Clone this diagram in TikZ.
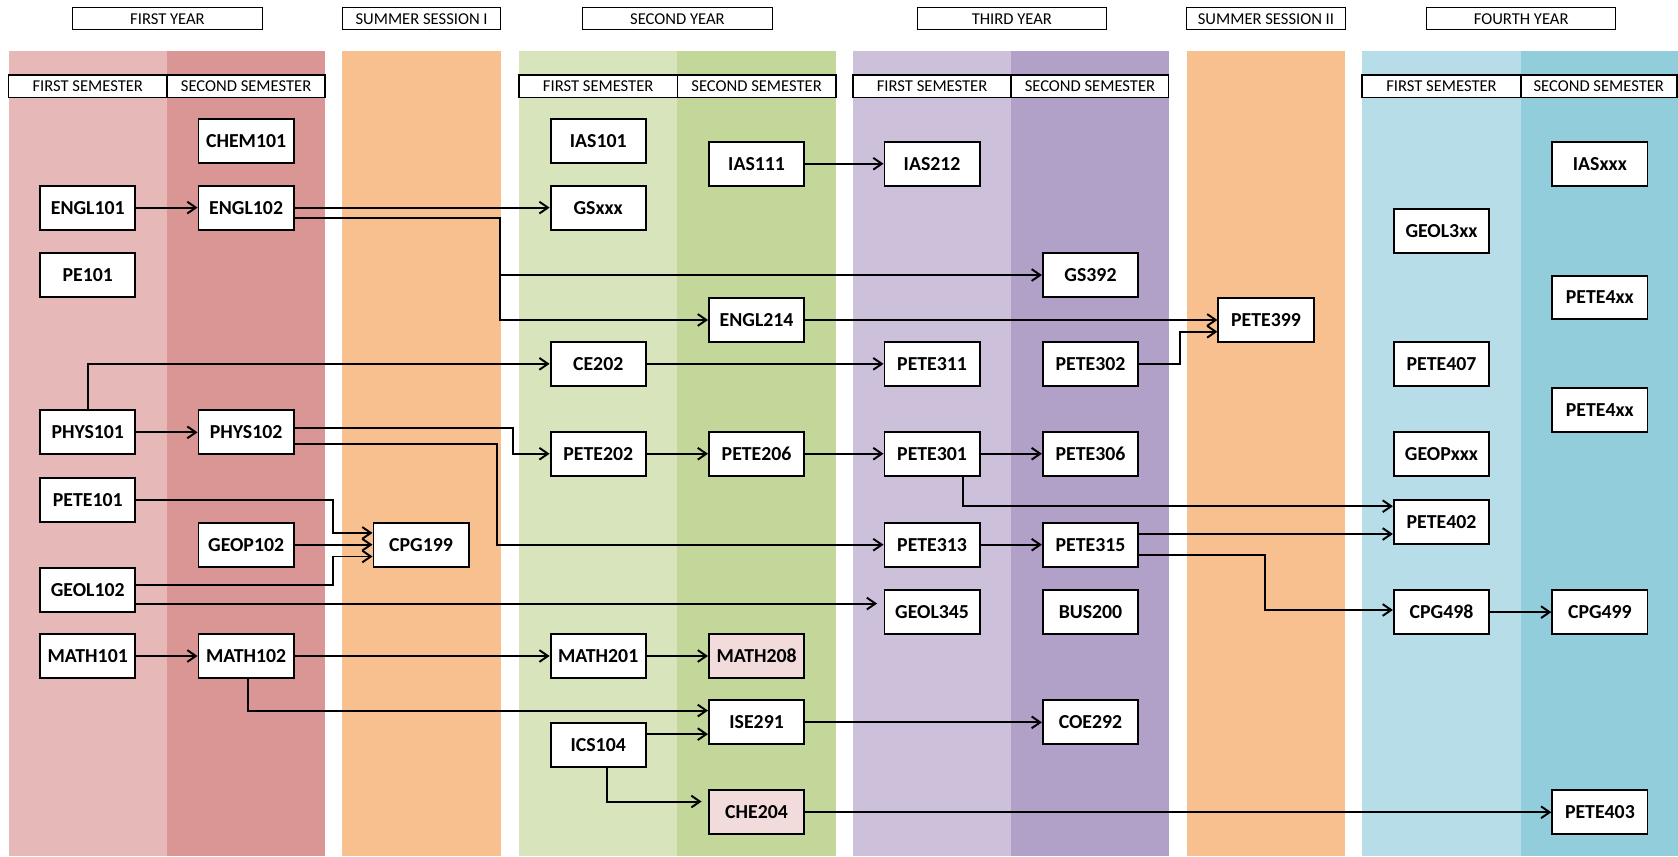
\documentclass[tikz,border=0pt]{standalone}
\usepackage{fontspec}
\setmainfont{Carlito}
\usetikzlibrary{arrows.meta,calc}
\definecolor{yAa}{HTML}{E6B9B8}
\definecolor{yAb}{HTML}{D99694}
\definecolor{sum}{HTML}{F8BF8F}
\definecolor{yBa}{HTML}{D8E4BC}
\definecolor{yBb}{HTML}{C4D79B}
\definecolor{yCa}{HTML}{CCC0DA}
\definecolor{yCb}{HTML}{B1A0C7}
\definecolor{yDa}{HTML}{B7DEE8}
\definecolor{yDb}{HTML}{92CDDC}
\definecolor{pinkfill}{HTML}{F2DCDB}
\begin{document}
\begin{tikzpicture}[x=1pt,y=-1pt,
 course/.style={draw=black,line width=1.8pt,fill=white,minimum width=89pt,minimum height=41pt,inner sep=0pt,font=\fontsize{18.5}{20}\selectfont\bfseries},
 hot/.style={course,fill=pinkfill},
 yearhdr/.style={draw=black,line width=0.9pt,fill=white,minimum height=21pt,inner sep=0pt,font=\fontsize{15.5}{17}\selectfont},
 semhdr/.style={draw=black,line width=1.6pt,fill=white,minimum height=21pt,minimum width=148pt,inner sep=0pt,font=\fontsize{15.5}{17}\selectfont},
 arr/.style={line width=1.8pt,-{Straight Barb[length=8pt,width=11pt]}}]
\useasboundingbox (0,0) rectangle (1568,800);
\fill[white] (0,0) rectangle (1568,800);
% lanes
\fill[yAa] (8,48) rectangle (156,800);
\fill[yAb] (156,48) rectangle (304,800);
\fill[sum] (320,48) rectangle (468,800);
\fill[yBa] (485,48) rectangle (633,800);
\fill[yBb] (633,48) rectangle (781,800);
\fill[yCa] (797,48) rectangle (945,800);
\fill[yCb] (945,48) rectangle (1092,800);
\fill[sum] (1109,48) rectangle (1257,800);
\fill[yDa] (1273,48) rectangle (1421,800);
\fill[yDb] (1421,48) rectangle (1568,800);
% year headers
\node[yearhdr,minimum width=177pt] (hA) at (156.5,17.5) {FIRST YEAR};
\node[yearhdr,minimum width=148pt] (hS1) at (394,17.5) {SUMMER SESSION I};
\node[yearhdr,minimum width=178pt] (hB) at (633,17.5) {SECOND YEAR};
\node[yearhdr,minimum width=177pt] (hC) at (945.5,17.5) {THIRD YEAR};
\node[yearhdr,minimum width=148pt] (hS2) at (1183,17.5) {SUMMER SESSION II};
\node[yearhdr,minimum width=177pt] (hD) at (1421.5,17.5) {FOURTH YEAR};
% semester headers
\node[semhdr] (sA1) at (82,80.5) {FIRST SEMESTER};
\node[semhdr] (sA2) at (230,80.5) {SECOND SEMESTER};
\node[semhdr] (sB1) at (559,80.5) {FIRST SEMESTER};
\node[semhdr] (sB2) at (707,80.5) {SECOND SEMESTER};
\node[semhdr] (sC1) at (871,80.5) {FIRST SEMESTER};
\node[semhdr,minimum width=147pt] (sC2) at (1018.5,80.5) {SECOND SEMESTER};
\node[semhdr] (sD1) at (1347,80.5) {FIRST SEMESTER};
\node[semhdr,minimum width=146pt] (sD2) at (1494,80.5) {SECOND SEMESTER};
% first year
\node[course] (CHEM101) at (230,132) {CHEM101};
\node[course] (ENGL101) at (82,194) {ENGL101};
\node[course] (ENGL102) at (230,194) {ENGL102};
\node[course] (PE101) at (82,257) {PE101};
\node[course] (PHYS101) at (82,404) {PHYS101};
\node[course] (PHYS102) at (230,404) {PHYS102};
\node[course] (PETE101) at (82,467) {PETE101};
\node[course] (GEOP102) at (230,509) {GEOP102};
\node[course] (GEOL102) at (82,551) {GEOL102};
\node[course] (MATH101) at (82,613) {MATH101};
\node[course] (MATH102) at (230,613) {MATH102};
\node[course] (CPG199) at (393.5,509) {CPG199};
% second year
\node[course] (IAS101) at (559,132) {IAS101};
\node[course] (GSxxx) at (559,194) {GSxxx};
\node[course] (CE202) at (559,340) {CE202};
\node[course] (PETE202) at (559,424) {PETE202};
\node[course] (MATH201) at (559,613) {MATH201};
\node[course] (ICS104) at (559,696) {ICS104};
\node[course] (IAS111) at (707,153) {IAS111};
\node[course] (ENGL214) at (707,299) {ENGL214};
\node[course] (PETE206) at (707,424) {PETE206};
\node[hot] (MATH208) at (707,613) {MATH208};
\node[course] (ISE291) at (707,675) {ISE291};
\node[hot] (CHE204) at (707,759) {CHE204};
% third year
\node[course] (IAS212) at (871,153) {IAS212};
\node[course] (PETE311) at (871,340) {PETE311};
\node[course] (PETE301) at (871,424) {PETE301};
\node[course] (PETE313) at (871,509) {PETE313};
\node[course] (GEOL345) at (871,572) {GEOL345};
\node[course] (GS392) at (1019,257) {GS392};
\node[course] (PETE302) at (1019,340) {PETE302};
\node[course] (PETE306) at (1019,424) {PETE306};
\node[course] (PETE315) at (1019,509) {PETE315};
\node[course] (BUS200) at (1019,572) {BUS200};
\node[course] (COE292) at (1019,675) {COE292};
\node[course] (PETE399) at (1183,299) {PETE399};
% fourth year
\node[course] (IASxxx) at (1495,153) {IASxxx};
\node[course] (GEOL3xx) at (1347,216) {GEOL3xx};
\node[course] (PETE4xxa) at (1495,278) {PETE4xx};
\node[course] (PETE407) at (1347,340) {PETE407};
\node[course] (PETE4xxb) at (1495,383) {PETE4xx};
\node[course] (GEOPxxx) at (1347,424) {GEOPxxx};
\node[course] (PETE402) at (1347,488) {PETE402};
\node[course] (CPG498) at (1347,572) {CPG498};
\node[course] (CPG499) at (1495,572) {CPG499};
\node[course] (PETE403) at (1495,759) {PETE403};
% junction coordinates
\coordinate (j1) at (467,250);
\coordinate (j2) at (479,412);
\coordinate (j3) at (464,460);
\coordinate (j4) at (311,480);
\coordinate (j4b) at (311,535);
\coordinate (j5) at (1182,540);
\coordinate (j6) at (1103,325);
% connectors
\draw[arr] (ENGL101) -- (ENGL102);
\draw[arr] (ENGL102) -- (GSxxx);
\draw[arr] ($(ENGL102.east)+(0,10)$) -| (j1 |- ENGL214) -- (ENGL214);
\draw[arr] (j1 |- GS392) -- (GS392);
\draw[arr] (IAS111) -- (IAS212);
\draw[arr] (PHYS101.north) |- (CE202);
\draw[arr] (PHYS101) -- (PHYS102);
\draw[arr] ($(PHYS102.east)+(0,-4)$) -| (j2) |- (PETE202);
\draw[arr] ($(PHYS102.east)+(0,11)$) -| (j3) |- (PETE313);
\draw[arr] (PETE101.east) -| (j4) |- ($(CPG199.west)+(0,-11)$);
\draw[arr] (GEOP102) -- (CPG199);
\draw[arr] ($(GEOL102.east)+(0,-4)$) -| (j4b) |- ($(CPG199.west)+(0,11)$);
\draw[arr] ($(GEOL102.east)+(0,13)$) -- ($(GEOL345.west)+(-6,-8)$);
\draw[arr] (MATH101) -- (MATH102);
\draw[arr] (MATH102) -- (MATH201);
\draw[arr] (MATH201) -- (MATH208);
\draw[arr] ($(MATH102.south)+(2,0)$) |- ($(ISE291.west)+(0,-11)$);
\draw[arr] ($(ICS104.east)+(0,-10)$) -- ($(ISE291.west)+(0,11)$);
\draw[arr] ($(ICS104.south)+(8,0)$) |- ($(CHE204.west)+(-6,-10)$);
\draw[arr] (ISE291) -- (COE292);
\draw[arr] (CHE204) -- (PETE403);
\draw[arr] (PETE202) -- (PETE206);
\draw[arr] (PETE206) -- (PETE301);
\draw[arr] (CE202) -- (PETE311);
\draw[arr] (PETE301) -- (PETE306);
\draw[arr] ($(PETE301.south)+(29,0)$) |- ($(PETE402.west)+(0,-15)$);
\draw[arr] (PETE313) -- (PETE315);
\draw[arr] ($(PETE315.east)+(0,-10)$) -- ($(PETE402.west)+(0,11)$);
\draw[arr] ($(PETE315.east)+(0,10)$) -| (j5) |- ($(CPG498.west)+(0,-2)$);
\draw[arr] (CPG498) -- (CPG499);
\draw[arr] (ENGL214) -- (PETE399);
\draw[arr] (PETE302) -| (j6) |- ($(PETE399.west)+(0,11)$);
\end{tikzpicture}
\end{document}
